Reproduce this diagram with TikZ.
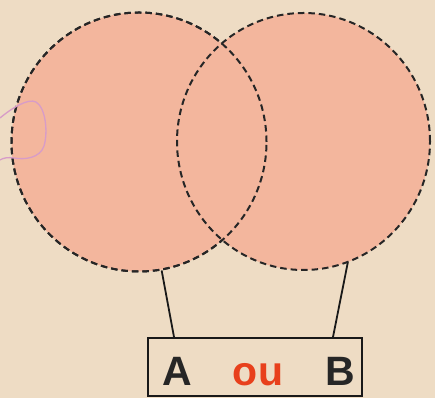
\documentclass[tikz,border=0pt]{standalone}
\usepackage{fontspec}
\setmainfont{Liberation Sans}
\usetikzlibrary{shapes.geometric,calc}
\definecolor{paper}{HTML}{EEDCC4}
\definecolor{crayon}{HTML}{F3B69D}
\definecolor{oured}{HTML}{E8401C}
\definecolor{smudge}{HTML}{D79CC8}
\tikzset{
  outline/.style={draw=black!85, dash pattern=on 6.5pt off 4pt, line width=2pt},
  setshape/.style={ellipse, outline, fill=crayon, inner sep=0pt},
  labelbox/.style={draw=black!90, line width=2pt, minimum width=214pt, minimum height=58pt, inner sep=0pt},
  letter/.style={font=\bfseries\fontsize{41}{41}\selectfont, text=black!85, inner sep=0pt, anchor=base},
  link/.style={line width=1.8pt, black!90}
}
\begin{document}
\begin{tikzpicture}[x=1pt,y=1pt]
\useasboundingbox (0,0) rectangle (435,398);
\fill[paper] (0,0) rectangle (435,398);
% sets
\node[setshape, minimum width=255pt, minimum height=259pt] (A) at (139,256) {};
\node[setshape, minimum width=253pt, minimum height=257pt] (B) at (303.5,256.5) {};
\draw[outline] (A.center) ellipse [x radius=127.5pt, y radius=129.5pt];
% stray smudge
\draw[smudge, line width=1.3pt] (0,280) .. controls (12,290) and (28,300) .. (36,296) .. controls (46,290) and (48,265) .. (44,252) .. controls (40,240) and (25,238) .. (14,240) .. controls (8,241) and (3,240) .. (0,238);
% label box
\node[labelbox] (box) at (255,31) {};
\node[letter] (la) at (177,13) {A};
\node[letter, text=oured] (lou) at (258,13) {ou};
\node[letter] (lb) at (340,13) {B};
% connectors
\coordinate (pa) at (A.-80);
\coordinate (pb) at (B.-70);
\coordinate (qa) at ($(box.north west)+(27,0)$);
\coordinate (qb) at ($(box.north west)+(186,0)$);
\draw[link] (pa) -- (qa);
\draw[link] (pb) -- (qb);
\end{tikzpicture}
\end{document}
